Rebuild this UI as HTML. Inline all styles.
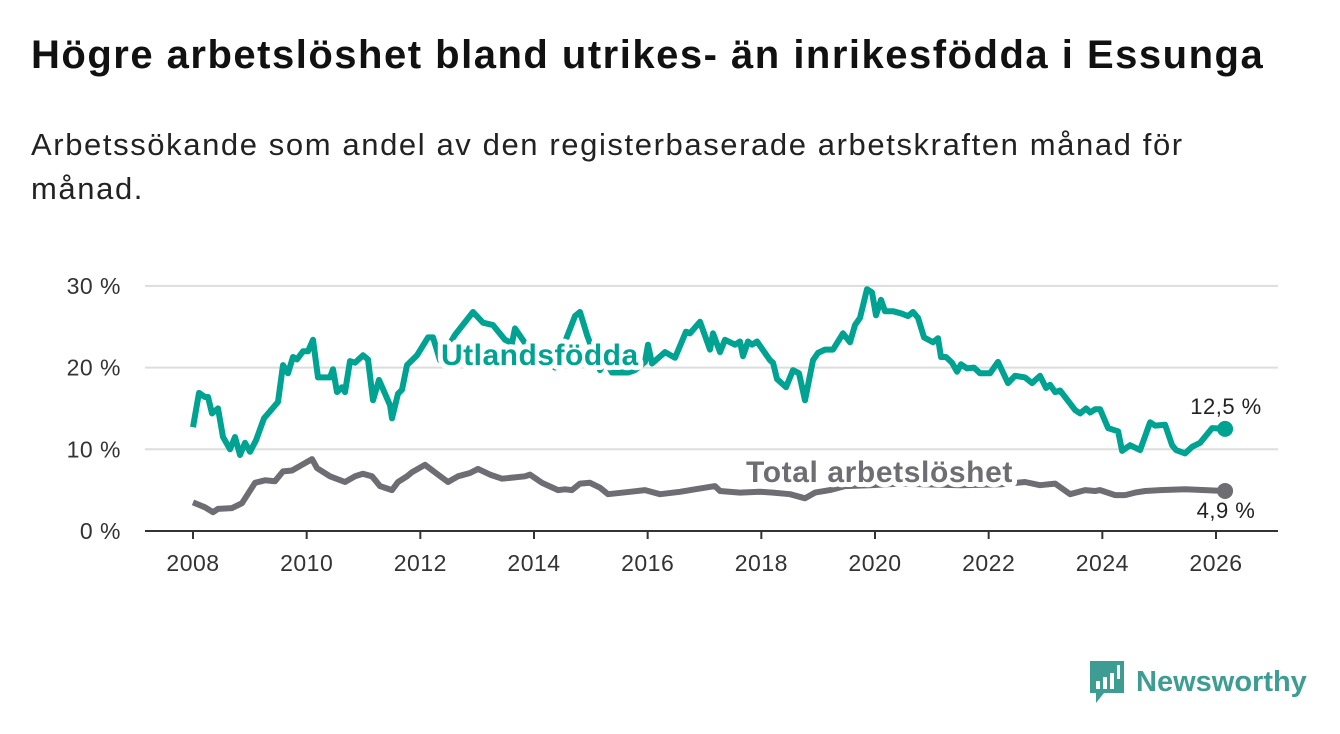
<!DOCTYPE html>
<html><head><meta charset="utf-8">
<style>
body{margin:0;width:1340px;height:734px;background:#fff;font-family:"Liberation Sans",sans-serif;overflow:hidden;position:relative}
#title{position:absolute;left:31px;top:33px;font-size:40px;font-weight:bold;color:#111;letter-spacing:1.5px;white-space:nowrap}
#sub{position:absolute;left:31px;top:123px;font-size:31px;color:#222;line-height:44px;width:1240px;letter-spacing:1.6px;white-space:nowrap}
svg{position:absolute;left:0;top:0}
</style></head><body>
<div id="title">Högre arbetslöshet bland utrikes- än inrikesfödda i Essunga</div>
<div id="sub">Arbetssökande som andel av den registerbaserade arbetskraften månad för<br>månad.</div>
<svg id="chart" width="1340" height="734"></svg>
<script>
const yTicks=[0,10,20,30];
const yTickLabels=["0 %","10 %","20 %","30 %"];
const xTicks=[2008,2010,2012,2014,2016,2018,2020,2022,2024,2026];
const utlX=[193,199,205,208,212,218,223,230,235,240,245,250,256,264,278,283,288,293,297,303,308,313,318,330,333,337,342,345,350,355,363,368,373,379,390,392,398,402,407,417,422,428,433,440,455,473,483,493,505,512,515,525,545,555,575,580,587,600,605,612,620,628,635,645,648,652,665,675,686,690,700,710,713,720,725,735,740,743,748,752,757,770,773,777,786,793,799,805,813,818,825,833,838,843,850,855,860,867,872,876,881,885,893,902,908,913,918,924,933,938,941,946,952,957,961,967,974,980,990,998,1008,1015,1025,1032,1040,1046,1050,1055,1060,1075,1080,1086,1090,1095,1100,1108,1118,1122,1130,1140,1150,1155,1165,1172,1176,1185,1192,1200,1212,1225];
const utlVals=[12.7,16.9,16.4,16.4,14.4,15,11.5,10,11.5,9.3,10.8,9.7,11.1,13.8,15.8,20.3,19.3,21.3,21,22,22,23.4,18.8,18.8,19.8,17,17.6,17,20.8,20.6,21.5,21,16,18.5,15.4,13.8,16.8,17.3,20.3,21.5,22.5,23.7,23.7,20.9,24,26.8,25.5,25.2,23.4,23,24.8,23,21,20,26.3,26.8,24,19.7,20.9,19.4,19.4,19.4,19.7,20.7,22.8,20.5,21.9,21.2,24.4,24.2,25.6,22.2,24.2,21.9,23.4,22.8,23.2,21.4,23.2,22.8,23.2,20.9,20.6,18.6,17.6,19.7,19.3,16,20.9,21.8,22.2,22.2,23.2,24.2,23.1,25.2,26.1,29.6,29.2,26.4,28.3,26.9,26.9,26.6,26.3,26.8,26.1,23.7,23.1,23.6,21.3,21.3,20.6,19.5,20.4,19.9,20,19.3,19.3,20.7,18.1,19,18.8,18.1,19,17.5,17.9,17,17.2,14.8,14.4,15,14.5,14.9,14.9,12.6,12.2,9.8,10.5,9.9,13.3,12.9,13,10.5,9.9,9.5,10.3,10.8,12.6,12.5];
const totX=[193,205,213,218,232,242,255,265,275,283,292,302,312,317,330,345,355,363,372,380,392,398,407,412,425,438,448,458,470,478,490,502,525,530,542,558,565,572,580,590,600,608,630,645,660,680,695,715,720,740,760,773,790,805,815,830,845,870,900,960,1000,1025,1040,1055,1070,1085,1095,1100,1115,1125,1135,1145,1160,1185,1205,1225];
const totVals=[3.5,2.9,2.3,2.7,2.8,3.4,5.9,6.2,6.1,7.3,7.4,8.1,8.8,7.7,6.7,6,6.7,7,6.7,5.5,5,6,6.7,7.2,8.1,6.9,6,6.7,7.1,7.6,6.9,6.4,6.7,6.9,5.9,5,5.1,5,5.8,5.9,5.3,4.5,4.8,5,4.5,4.8,5.1,5.5,4.9,4.7,4.8,4.7,4.5,4,4.7,5,5.5,5.6,5.8,5.6,5.7,6,5.6,5.8,4.5,5,4.9,5,4.4,4.4,4.7,4.9,5,5.1,5,4.9];
const NS='http://www.w3.org/2000/svg';
const svg=document.getElementById('chart');
const x0=193,x1=1216,y0=531,yPer=8.17;
function xs(yr){return x0+(yr-2008)*(x1-x0)/18;}
function ys(v){return y0-v*yPer;}
function pxToYear(px){return 2008+(px-193)/56.83;}
const utlDates=utlX.map(pxToYear), totDates=totX.map(pxToYear);
function el(tag,attrs,parent){const e=document.createElementNS(NS,tag);for(const k in attrs)e.setAttribute(k,attrs[k]);(parent||svg).appendChild(e);return e;}
yTicks.forEach((t,i)=>{
  if(t>0){const g=el('line',{x1:145,x2:1278,y1:ys(t),y2:ys(t),stroke:'#dddddd','stroke-width':2});
  
  }
  const tx=el('text',{x:121,y:ys(t)+8,'text-anchor':'end','font-size':23,fill:'#333','font-family':'Liberation Sans','letter-spacing':0.5});
  tx.textContent=yTickLabels[i];
  
  
});
const ax=el('line',{x1:145,x2:1278,y1:y0,y2:y0,stroke:'#333','stroke-width':2});


xTicks.forEach(t=>{
  const tk=el('line',{x1:xs(t),x2:xs(t),y1:y0,y2:y0+8,stroke:'#333','stroke-width':2});
  
  
  const tx=el('text',{x:xs(t),y:571,'text-anchor':'middle','font-size':23,fill:'#333','font-family':'Liberation Sans','letter-spacing':0.5});
  tx.textContent=t;
  
  
});
function path(dates,vals){return dates.map((d,i)=>(i?'L':'M')+xs(d).toFixed(1)+','+ys(vals[i]).toFixed(1)).join('');}
const pt=el('path',{d:path(totDates,totVals),fill:'none',stroke:'#6e6d73','stroke-width':6,'stroke-linejoin':'round'});


const pu=el('path',{d:path(utlDates,utlVals),fill:'none',stroke:'#00a291','stroke-width':6,'stroke-linejoin':'round'});


function label(txt,x,y,col,size,bold,name,anchor,ls){
  const t=el('text',{x:x,y:y,'font-size':size,'font-weight':bold?'bold':'normal',fill:col,'text-anchor':anchor||'start','font-family':'Liberation Sans','letter-spacing':ls||0,stroke:'#fff','stroke-width':bold?10:0,'paint-order':'stroke','stroke-linejoin':'round'});
  t.textContent=txt;
  
  
}
label('Utlandsfödda',441,365,'#00a291',30,true,'utlandsfodda-label','start',0.5);
label('Total arbetslöshet',746,482,'#6e6d73',30,true,'total-label','start',0.6);
const lu=utlDates.length-1, lt=totDates.length-1;
const du=el('circle',{cx:xs(utlDates[lu]),cy:ys(utlVals[lu]),r:8,fill:'#00a291'});


const dt=el('circle',{cx:xs(totDates[lt]),cy:ys(totVals[lt]),r:8,fill:'#6e6d73'});


label('12,5 %',1226,414,'#222',22,false,'utlandsfodda-value','middle',0.5);
label('4,9 %',1226,518,'#222',22,false,'total-value','middle',0.5);
</script>
<div style="position:absolute;left:1088px;top:658px;height:48px;display:flex;align-items:center">
<svg width="38" height="46" style="position:static" viewBox="0 0 38 46"><path d="M2 2h34v32H16l-8 10v-10H2z" fill="#3e9d92"/><rect x="8" y="22" width="4" height="8" fill="#fff"/><rect x="15" y="18" width="4" height="12" fill="#fff"/><rect x="22" y="14" width="4" height="16" fill="#fff"/><rect x="29" y="6" width="3" height="14" fill="#fff"/></svg>
<span style="font-size:29px;color:#3e9d92;margin-left:10px;font-weight:bold">Newsworthy</span></div>
</body></html>
